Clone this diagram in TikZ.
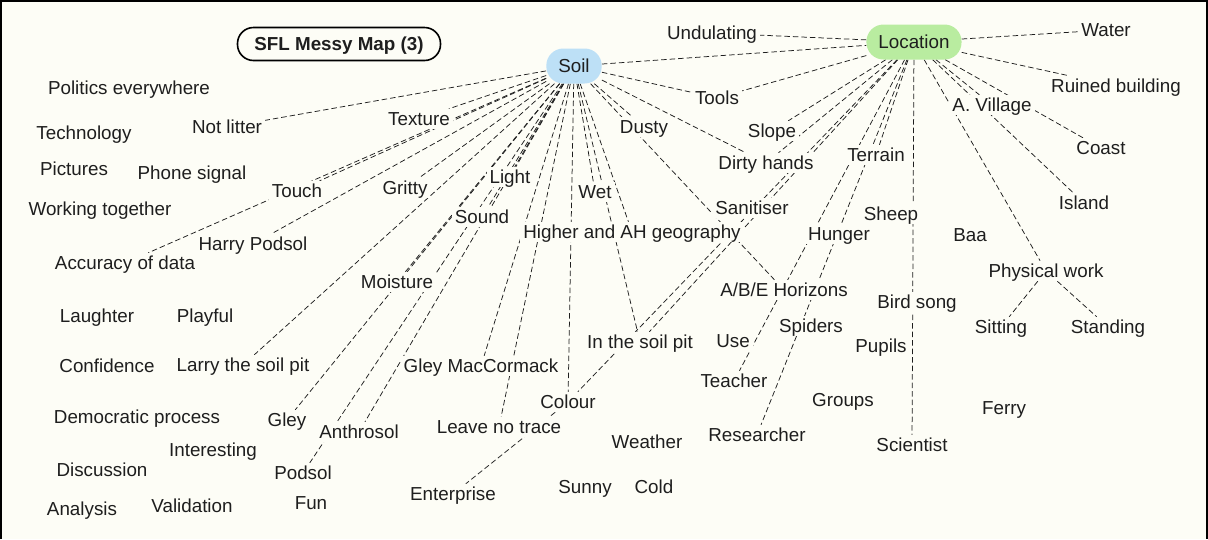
\documentclass[tikz,border=0pt]{standalone}
\usepackage{fontspec}
\setmainfont{Liberation Sans}
\definecolor{paper}{RGB}{253,253,246}
\definecolor{soilblue}{RGB}{189,224,246}
\definecolor{locgreen}{RGB}{185,236,160}
\definecolor{ink}{RGB}{30,30,30}
\pgfdeclarelayer{paperlayer}
\pgfdeclarelayer{links}
\pgfsetlayers{paperlayer,links,main}

\begin{document}
\begin{tikzpicture}[x=1pt,y=-1pt,
  every node/.style={font=\fontsize{18.8}{22}\selectfont, text=ink},
  term/.style={fill=paper, inner xsep=3pt, inner ysep=2pt, text height=14pt, text depth=2pt},
  hub/.style={rounded corners=17pt, minimum height=35pt, inner xsep=12pt, text height=14pt, text depth=2pt},
  link/.style={draw=ink, line width=0.75pt, dash pattern=on 5.5pt off 3pt}]
\useasboundingbox (0,0) rectangle (1208,539);
\begin{pgfonlayer}{paperlayer}
  \fill[paper] (0,0) rectangle (1208,539);
\end{pgfonlayer}

% frame
\draw[line width=2pt] (1,539) -- (1,1) -- (1207,1) -- (1207,539);

% title
\node[draw, line width=1.6pt, rounded corners=16pt, minimum width=203pt, minimum height=33pt,
      fill=paper, text height=14pt, text depth=2pt,
      font=\fontsize{18.8}{22}\selectfont\bfseries] (title) at (339,44) {SFL Messy Map (3)};

% hubs
\node[hub, fill=soilblue] (soil) at (574,66) {Soil};
\node[hub, fill=locgreen] (loc) at (914,42) {Location};

% terms
\node[term] (undul) at (712,33) {Undulating};
\node[term] (water) at (1106,30) {Water};
\node[term] (ruined) at (1116,86) {Ruined building};
\node[term] (politics) at (129,88) {Politics everywhere};
\node[term] (notlitter) at (227,127) {Not litter};
\node[term] (texture) at (419,119) {Texture};
\node[term] (tools) at (717,98) {Tools};
\node[term] (dusty) at (644,127) {Dusty};
\node[term] (slope) at (772,131) {Slope};
\node[term] (village) at (992,105) {A. Village};
\node[term] (tech) at (84,133) {Technology};
\node[term] (dirty) at (766,163) {Dirty hands};
\node[term] (terrain) at (876,155) {Terrain};
\node[term] (coast) at (1101,148) {Coast};
\node[term] (pictures) at (74,169) {Pictures};
\node[term] (phone) at (192,173) {Phone signal};
\node[term] (touch) at (297,191) {Touch};
\node[term] (gritty) at (405,188) {Gritty};
\node[term] (light) at (510,177) {Light};
\node[term] (wet) at (595,192) {Wet};
\node[term] (sanit) at (752,208) {Sanitiser};
\node[term] (sheep) at (891,214) {Sheep};
\node[term] (island) at (1084,203) {Island};
\node[term] (working) at (100,209) {Working together};
\node[term] (sound) at (482,217) {Sound};
\node[term] (higher) at (632,232) {Higher and AH geography};
\node[term] (hunger) at (839,234) {Hunger};
\node[term] (baa) at (970,235) {Baa};
\node[term] (harry) at (253,244) {Harry Podsol};
\node[term] (accuracy) at (125,263) {Accuracy of data};
\node[term] (physical) at (1046,271) {Physical work};
\node[term] (moisture) at (397,282) {Moisture};
\node[term] (abe) at (784,290) {A/B/E Horizons};
\node[term] (bird) at (917,302) {Bird song};
\node[term] (laughter) at (97,316) {Laughter};
\node[term] (playful) at (205,316) {Playful};
\node[term] (spiders) at (811,326) {Spiders};
\node[term] (sitting) at (1001,327) {Sitting};
\node[term] (standing) at (1108,327) {Standing};
\node[term] (soilpit) at (640,342) {In the soil pit};
\node[term] (use) at (733,341) {Use};
\node[term] (pupils) at (881,346) {Pupils};
\node[term] (confidence) at (107,366) {Confidence};
\node[term] (larry) at (243,365) {Larry the soil pit};
\node[term] (gleymac) at (481,366) {Gley MacCormack};
\node[term] (teacher) at (734,381) {Teacher};
\node[term] (colour) at (568,402) {Colour};
\node[term] (groups) at (843,400) {Groups};
\node[term] (democratic) at (137,417) {Democratic process};
\node[term] (gley) at (287,420) {Gley};
\node[term] (ferry) at (1004,408) {Ferry};
\node[term] (anthrosol) at (359,432) {Anthrosol};
\node[term] (leave) at (499,427) {Leave no trace};
\node[term] (interesting) at (213,450) {Interesting};
\node[term] (weather) at (647,442) {Weather};
\node[term] (researcher) at (757,435) {Researcher};
\node[term] (scientist) at (912,445) {Scientist};
\node[term] (discussion) at (102,470) {Discussion};
\node[term] (podsol) at (303,473) {Podsol};
\node[term] (enterprise) at (453,494) {Enterprise};
\node[term] (sunny) at (585,487) {Sunny};
\node[term] (cold) at (654,487) {Cold};
\node[term] (analysis) at (82,509) {Analysis};
\node[term] (validation) at (192,506) {Validation};
\node[term] (fun) at (311,503) {Fun};

% connectors, drawn beneath the labels
\begin{pgfonlayer}{links}
  \foreach \t in {loc,notlitter,texture,touch,accuracy,harry,gritty,larry,moisture,gley,
                  light,sound,podsol,anthrosol,gleymac,leave,colour,wet,soilpit,higher,
                  dusty,abe,tools,dirty}
    \draw[link] (soil) -- (\t);
  \foreach \t in {undul,water,ruined,tools,slope,dirty,soilpit,colour,terrain,teacher,
                  researcher,scientist,village,physical,island,coast}
    \draw[link] (loc) -- (\t);
  \draw[link] (physical) -- (sitting);
  \draw[link] (physical) -- (standing);
  \draw[link] (colour) -- (enterprise);
\end{pgfonlayer}
\end{tikzpicture}
\end{document}
